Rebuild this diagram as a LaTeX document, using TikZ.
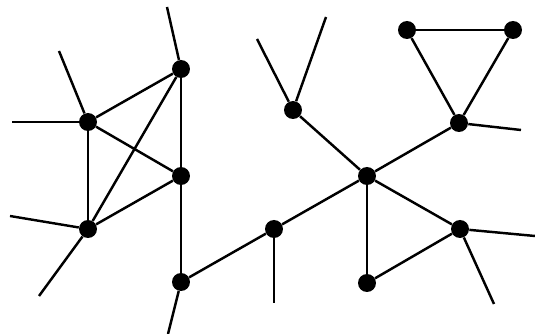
\documentclass[tikz,border=0pt]{standalone}
\usepackage{xcolor}
\usepackage{tikz}
\usetikzlibrary{positioning,calc}
\definecolor{graphInk}{RGB}{0,0,0}

\begin{document}
\begin{tikzpicture}[x=0.02cm,y=-0.02cm,
    vertex/.style={circle,fill=graphInk,draw=none,inner sep=0pt,minimum size=0.36cm},
    edge/.style={draw=graphInk,line width=1.4pt}]

    % ─── Moldura (535 x 334) ──────────────────────────────
    \useasboundingbox (0,0) rectangle (535,334);

    % ─── Vertices ─────────────────────────────────────────
    \node[vertex] (a) at (181,69) {};
    \node[vertex] (b) at (88,122) {};
    \node[vertex] (c) at (181,176) {};
    \node[vertex] (d) at (88,229) {};
    \node[vertex] (e) at (181,282) {};
    \node[vertex] (f) at (274,229) {};
    \node[vertex] (g) at (293,110) {};
    \node[vertex] (h) at (367,176) {};
    \node[vertex] (i) at (459,123) {};
    \node[vertex] (j) at (407,30) {};
    \node[vertex] (k) at (513,30) {};
    \node[vertex] (l) at (460,229) {};
    \node[vertex] (m) at (367,283) {};

    % ─── Pontas soltas ────────────────────────────────────
    \coordinate (aUp)    at (167,7);
    \coordinate (bLeft)  at (12,122);
    \coordinate (bUp)    at (59,51);
    \coordinate (dLeft)  at (10,216);
    \coordinate (dDown)  at (39,296);
    \coordinate (eDown)  at (168,334);
    \coordinate (fDown)  at (274,303);
    \coordinate (gLeft)  at (257,39);
    \coordinate (gRight) at (326,17);
    \coordinate (iRight) at (521,130);
    \coordinate (lRight) at (535,236);
    \coordinate (lDown)  at (494,304);

    % ─── Arestas ──────────────────────────────────────────
    \foreach \u/\v in {a/b,a/c,a/d,b/c,b/d,c/d,c/e,e/f,f/h,g/h,h/i,
                       i/j,i/k,j/k,h/l,h/m,m/l}{
      \draw[edge] (\u) -- (\v);
    }
    \foreach \u/\v in {a/aUp,b/bLeft,b/bUp,d/dLeft,d/dDown,e/eDown,
                       f/fDown,g/gLeft,g/gRight,i/iRight,l/lRight,l/lDown}{
      \draw[edge] (\u) -- (\v);
    }

\end{tikzpicture}
\end{document}
